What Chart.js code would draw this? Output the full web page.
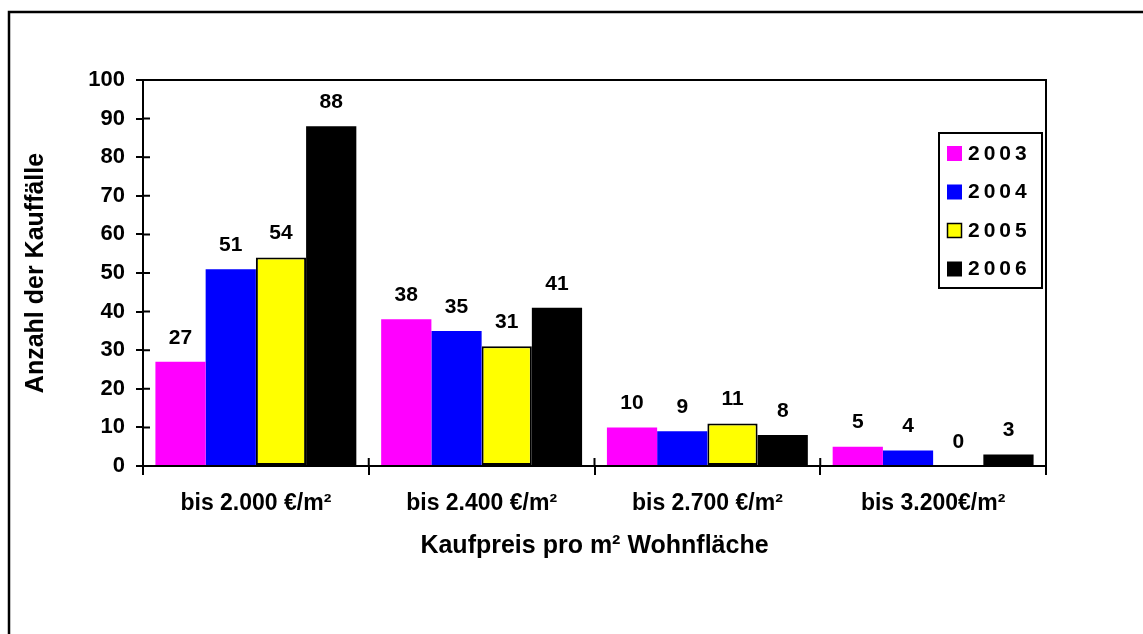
<!DOCTYPE html>
<html>
<head>
<meta charset="utf-8">
<script src="https://cdn.jsdelivr.net/npm/chart.js@4/dist/chart.umd.min.js"></script>
<style>
  html, body { margin: 0; padding: 0; background: #fff; }
  #wrap { width: 1143px; height: 634px; }
</style>
</head>
<body>
<div id="wrap"><canvas id="myChart"></canvas></div>
<script>
let kategorien = ["bis 2.000 €/m²", "bis 2.400 €/m²", "bis 2.700 €/m²", "bis 3.200€/m²"];
let jahre = ["2003", "2004", "2005", "2006"];

let werte2003 = [27, 38, 10, 5];
let werte2004 = [51, 35, 9, 4];
let werte2005 = [54, 31, 11, 0];
let werte2006 = [88, 41, 8, 3];

let farben = ['#ff00ff', '#0000ff', '#ffff00', '#000000'];
let rahmen = [0, 0, 2, 0];

let schrift = "'Liberation Sans', Arial, sans-serif";

// Rahmen um das ganze Bild, Plotbox, innere Tickstriche, Werte und Legende
let extras = {
    id: 'extras',
    afterDraw(chart) {
        let ctx = chart.ctx;
        let a = chart.chartArea;
        let x = chart.scales.x;
        let y = chart.scales.y;
        ctx.save();

        // aeusserer Rahmen
        ctx.strokeStyle = '#000';
        ctx.lineWidth = 2.5;
        ctx.beginPath();
        ctx.moveTo(9, 634);
        ctx.lineTo(9, 12);
        ctx.lineTo(1143, 12);
        ctx.stroke();

        // Plotbox
        ctx.lineWidth = 2;
        ctx.strokeRect(a.left, a.top, a.right - a.left, a.bottom - a.top);

        // kleine Striche nach innen
        ctx.beginPath();
        y.ticks.forEach(function (t) {
            let py = y.getPixelForValue(t.value);
            ctx.moveTo(a.left, py);
            ctx.lineTo(a.left + 7, py);
        });
        for (let i = 0; i <= kategorien.length; i++) {
            let px = x.getPixelForValue(i - 0.5);
            ctx.moveTo(px, a.bottom);
            ctx.lineTo(px, a.bottom - 8);
        }
        ctx.stroke();

        // Werte ueber den Balken
        ctx.fillStyle = '#000';
        ctx.font = 'bold 21px ' + schrift;
        ctx.textAlign = 'center';
        ctx.textBaseline = 'middle';
        chart.data.datasets.forEach(function (ds, i) {
            chart.getDatasetMeta(i).data.forEach(function (bar, j) {
                ctx.fillText(String(ds.data[j]), bar.x, bar.y - 24);
            });
        });

        // Legende
        ctx.lineWidth = 2;
        ctx.strokeRect(939, 133, 103, 155);
        ctx.font = 'bold 21px ' + schrift;
        ctx.textAlign = 'left';
        ctx.letterSpacing = '4px';
        chart.data.datasets.forEach(function (ds, i) {
            let cy = 153 + i * 38.5;
            ctx.fillStyle = ds.backgroundColor;
            ctx.fillRect(947, cy - 7, 15, 15);
            if (ds.borderWidth) {
                ctx.lineWidth = 1.5;
                ctx.strokeRect(947.5, cy - 6.5, 14, 14);
            }
            ctx.fillStyle = '#000';
            ctx.fillText(ds.label, 968, cy + 1);
        });
        ctx.restore();
    }
};

let datasets = [werte2003, werte2004, werte2005, werte2006].map(function (w, i) {
    return {
        label: jahre[i],
        data: w,
        backgroundColor: farben[i],
        borderColor: '#000',
        borderWidth: rahmen[i],
        borderSkipped: false,
        categoryPercentage: 0.89,
        barPercentage: 1.0
    };
});

let myChart = new Chart(document.getElementById("myChart").getContext('2d'), {
    type: 'bar',
    data: {
        labels: kategorien,
        datasets: datasets
    },
    plugins: [extras],
    options: {
        responsive: true,
        maintainAspectRatio: false,
        animation: false,
        layout: {
            padding: { left: 0, right: 97, top: 80, bottom: 68 }
        },
        plugins: {
            legend: { display: false },
            tooltip: { enabled: false }
        },
        scales: {
            x: {
                afterFit: function (s) { s.height = 100; },
                grid: {
                    offset: true,
                    drawOnChartArea: false,
                    color: '#000',
                    lineWidth: 2,
                    tickLength: 9
                },
                border: { color: '#000', width: 2 },
                ticks: {
                    color: '#000',
                    padding: 15,
                    font: { family: schrift, size: 23, weight: 'bold' }
                },
                title: {
                    display: true,
                    text: 'Kaufpreis pro m² Wohnfläche',
                    color: '#000',
                    padding: { bottom: 5 },
                    font: { family: schrift, size: 25, weight: 'bold' }
                }
            },
            y: {
                min: 0,
                max: 100,
                afterFit: function (s) { s.width = 143; },
                grid: {
                    drawOnChartArea: false,
                    color: '#000',
                    lineWidth: 2,
                    tickLength: 7
                },
                border: { color: '#000', width: 2 },
                ticks: {
                    stepSize: 10,
                    color: '#000',
                    padding: 11,
                    font: { family: schrift, size: 22, weight: 'bold' }
                },
                title: {
                    display: true,
                    text: 'Anzahl der Kauffälle',
                    color: '#000',
                    padding: { top: 21 },
                    font: { family: schrift, size: 25, weight: 'bold' }
                }
            }
        }
    }
});
</script>
</body>
</html>
